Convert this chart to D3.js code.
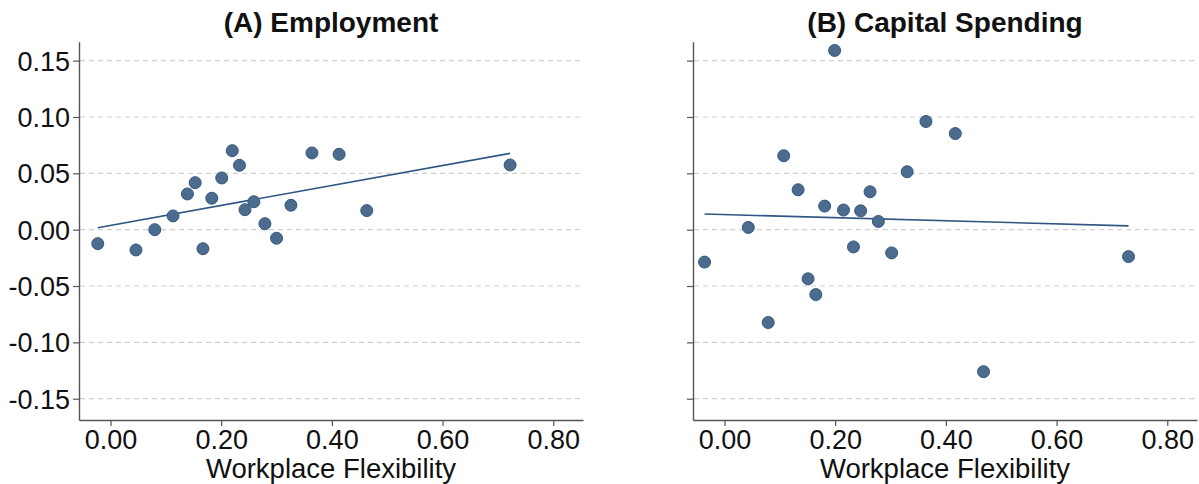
<!DOCTYPE html>
<html>
<head>
    <title>workplace flexibility scatter</title>
    <script src="https://d3js.org/d3.v7.min.js"></script>
    <style>
        body { margin: 0; background: #fff; }
        text { font-family: "Liberation Sans", Arial, sans-serif; }
    </style>
</head>
<body>
    <svg id="chart"></svg>

    <script>

        // Panel A - employment
        var flexA = [-0.023, 0.046, 0.080, 0.113, 0.139, 0.153, 0.167, 0.183, 0.201, 0.220,
                     0.233, 0.243, 0.259, 0.279, 0.300, 0.326, 0.364, 0.413, 0.463, 0.722];
        var empA  = [-0.0124, -0.0180, 0.0000, 0.0122, 0.0317, 0.0417, -0.0169, 0.0279, 0.0459, 0.0701,
                     0.0571, 0.0177, 0.0248, 0.0053, -0.0076, 0.0217, 0.0681, 0.0669, 0.0169, 0.0574];
        var fitA  = [0.0038, 0.0886]; // intercept, slope

        // Panel B - capital spending
        var flexB = [0.199, 0.107, 0.364, 0.417, 0.330, 0.133, 0.263, 0.181, 0.215, 0.246,
                     0.278, 0.043, -0.036, 0.151, 0.165, 0.079, 0.233, 0.302, 0.468, 0.730];
        var capB  = [0.159, 0.0656, 0.0960, 0.0853, 0.0514, 0.0354, 0.0336, 0.0209, 0.0174, 0.0167,
                     0.0073, 0.0020, -0.0288, -0.0436, -0.0576, -0.0824, -0.0153, -0.0206, -0.126, -0.0239];
        var fitB  = [0.0134, -0.0138];

        var xTicks = [0, 0.2, 0.4, 0.6, 0.8];
        var yTicks = [-0.15, -0.10, -0.05, 0, 0.05, 0.10, 0.15];

        var titles = ["(A) Employment", "(B) Capital Spending"];
        var xTitle = "Workplace Flexibility";

        var width = 1199, height = 484;
        var plotTop = 41.7, plotBottom = 420;

        var svg = d3.select("#chart")
                    .attr("width", width)
                    .attr("height", height);

        var y = d3.scaleLinear()
            .domain([-0.1689, 0.1668])
            .range([plotBottom, plotTop]);

        var panels = [
            {left: 79, right: 583, xs: flexA, ys: empA, fit: fitA, title: titles[0], labels: true},
            {left: 693, right: 1197, xs: flexB, ys: capB, fit: fitB, title: titles[1], labels: false}
        ];

        panels.forEach(function(p) {

            var x = d3.scaleLinear()
                .domain([-0.0569, 0.8537])
                .range([p.left, p.right]);

            var g = svg.append("g");

            // dashed grid
            g.selectAll(".grid")
                .data(yTicks)
                .enter().append("line")
                .attr("x1", p.left + 1)
                .attr("x2", p.right)
                .attr("y1", function(d) { return y(d); })
                .attr("y2", function(d) { return y(d); })
                .attr("stroke", "#cfcfcf")
                .attr("stroke-width", 1.2)
                .attr("stroke-dasharray", "5,4");

            var yAxis = d3.axisLeft(y)
                .tickValues(yTicks)
                .tickSize(6)
                .tickSizeOuter(0)
                .tickPadding(3)
                .tickFormat(function(d) { return p.labels ? d.toFixed(2) : ""; });

            var gy = g.append("g")
                .attr("transform", "translate(" + p.left + ",0)")
                .call(yAxis);

            var xAxis = d3.axisBottom(x)
                .tickValues(xTicks)
                .tickSize(6)
                .tickSizeOuter(0)
                .tickPadding(4)
                .tickFormat(function(d) { return d.toFixed(2); });

            var gx = g.append("g")
                .attr("transform", "translate(0," + plotBottom + ")")
                .call(xAxis);

            [gx, gy].forEach(function(a) {
                a.select(".domain").attr("stroke", "#555").attr("stroke-width", 1.4);
                a.selectAll(".tick line").attr("stroke", "#555").attr("stroke-width", 1.2);
                a.selectAll(".tick text")
                    .attr("fill", "#111")
                    .style("font-size", "27px")
                    .style("font-family", "'Liberation Sans', Arial, sans-serif");
            });
            gy.selectAll(".tick text").attr("dy", "0.35em");

            // fit line across the range of the data
            var ext = d3.extent(p.xs);
            g.append("line")
                .attr("x1", x(ext[0]))
                .attr("x2", x(ext[1]))
                .attr("y1", y(p.fit[0] + p.fit[1] * ext[0]))
                .attr("y2", y(p.fit[0] + p.fit[1] * ext[1]))
                .attr("stroke", "#2d5682")
                .attr("stroke-width", 1.6);

            // points
            g.selectAll(".dot")
                .data(p.xs)
                .enter().append("circle")
                .attr("class", "dot")
                .attr("cx", function(d) { return x(d); })
                .attr("cy", function(d, i) { return y(p.ys[i]); })
                .attr("r", 6)
                .attr("fill", "#4b6b8f")
                .attr("stroke", "#35587d")
                .attr("stroke-width", 1);

            g.append("text")
                .attr("x", (p.left + p.right) / 2)
                .attr("y", 32)
                .attr("text-anchor", "middle")
                .style("font-size", "28px")
                .style("font-weight", "bold")
                .attr("fill", "#111")
                .text(p.title);

            g.append("text")
                .attr("x", (p.left + p.right) / 2)
                .attr("y", 478)
                .attr("text-anchor", "middle")
                .style("font-size", "27.5px")
                .attr("fill", "#111")
                .text(xTitle);
        });

    </script>
</body>
</html>
